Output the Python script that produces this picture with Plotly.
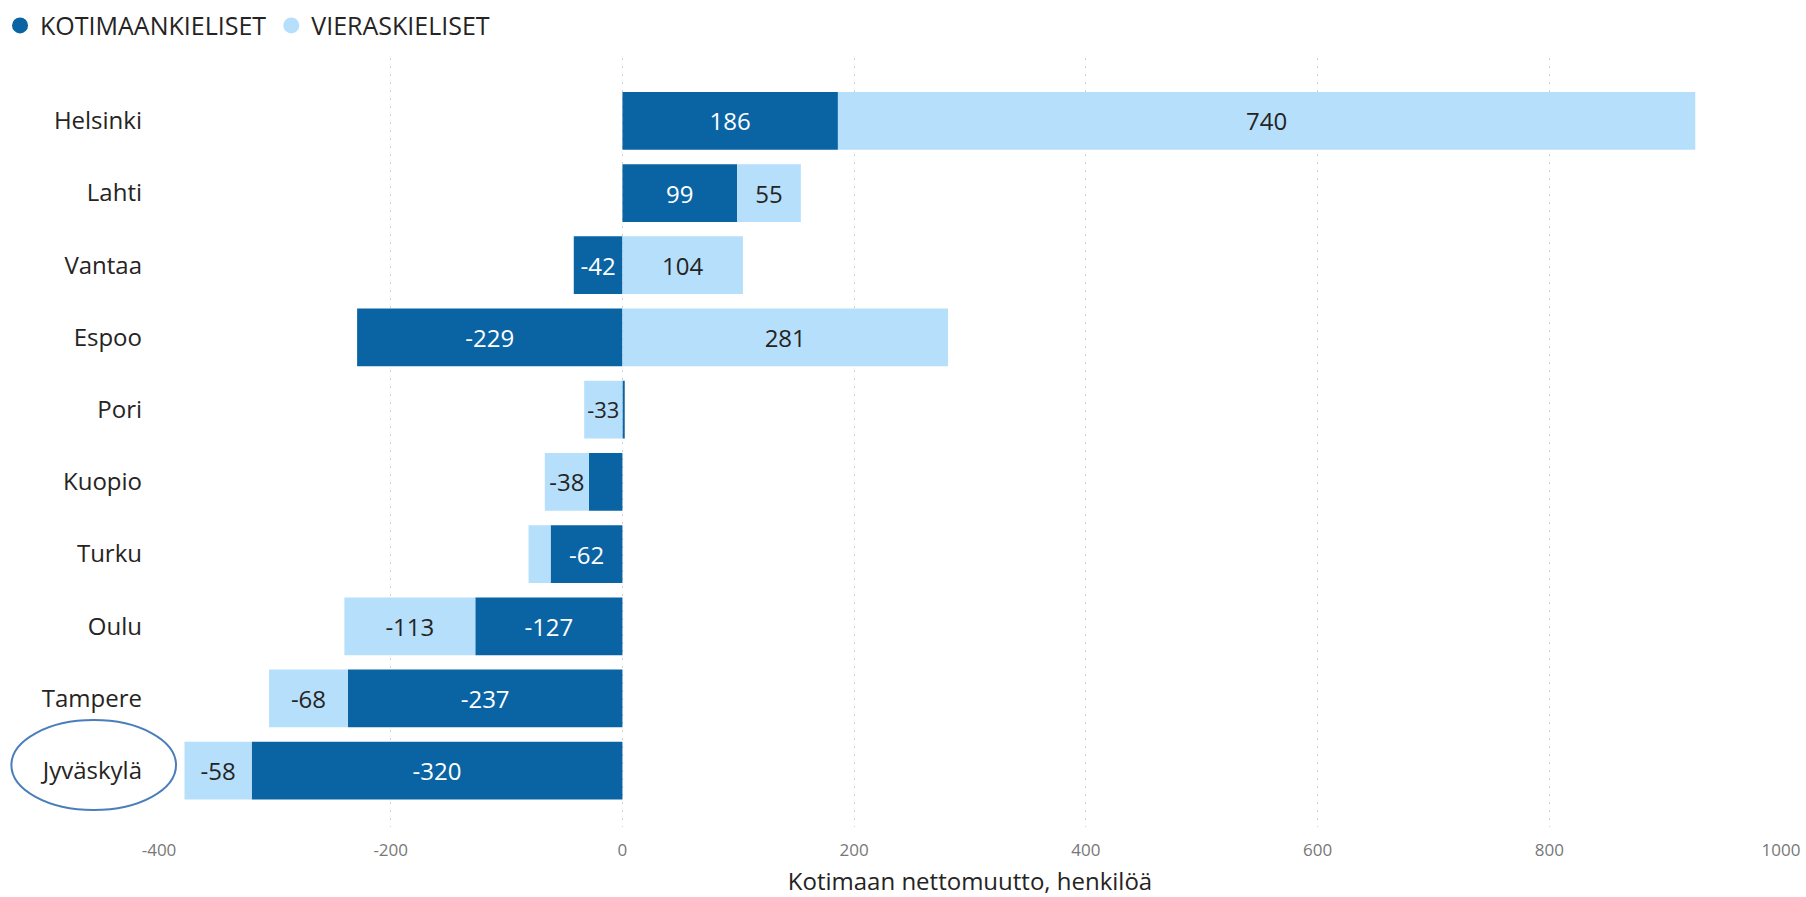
import plotly.graph_objects as go

DARK = "#0a64a4"
LIGHT = "#b6dffc"
TEXT = "#252423"

cities = ["Helsinki", "Lahti", "Vantaa", "Espoo", "Pori", "Kuopio", "Turku", "Oulu", "Tampere", "Jyväskylä"]
kotimaankieliset = [186, 99, -42, -229, 2, -29, -62, -127, -237, -320]
vieraskieliset = [740, 55, 104, 281, -33, -38, -19, -113, -68, -58]

x_ticks = [-400, -200, 0, 200, 400, 600, 800, 1000]


def _labels(vals, min_abs=30):
    # Power BI drops labels that don't fit in the bar
    return [str(v) if abs(v) >= min_abs else "" for v in vals]


fig = go.Figure()
fig.add_trace(go.Bar(
    y=cities, x=kotimaankieliset, orientation="h", name="KOTIMAANKIELISET",
    marker=dict(color=DARK, line=dict(width=0)),
    text=_labels(kotimaankieliset), textposition="inside", insidetextanchor="middle",
    textangle=0, textfont=dict(color="white", size=24), showlegend=False,
))
fig.add_trace(go.Bar(
    y=cities, x=vieraskieliset, orientation="h", name="VIERASKIELISET",
    marker=dict(color=LIGHT, line=dict(width=0)),
    text=_labels(vieraskieliset), textposition="inside", insidetextanchor="middle",
    textangle=0, textfont=dict(color=TEXT, size=24), showlegend=False,
))

# circle legend markers like Power BI
for name, color in [("KOTIMAANKIELISET", DARK), ("VIERASKIELISET", LIGHT)]:
    fig.add_trace(go.Scatter(x=[None], y=[None], mode="markers", name=name,
                             marker=dict(color=color, size=20, symbol="circle")))

# highlight ring around Jyväskylä
fig.add_shape(type="circle", xref="paper", yref="paper",
              x0=-0.091, x1=0.0105, y0=0.022, y1=0.139,
              line=dict(color="#4a7ebb", width=2))

fig.update_layout(
    barmode="relative",
    bargap=0.2,
    width=1806, height=897,
    margin=dict(l=159, r=25, t=58, b=70, autoexpand=False),
    plot_bgcolor="#fff",
    paper_bgcolor="#fff",
    font=dict(family="Open Sans, sans-serif", color=TEXT, size=22),
    legend=dict(orientation="h", x=-0.098, y=1.072, xanchor="left", yanchor="top",
                font=dict(size=25, color=TEXT), itemwidth=30, tracegroupgap=0),
)
fig.update_xaxes(
    range=[-400, 1000], tickvals=x_ticks, ticktext=[str(t) for t in x_ticks],
    tickfont=dict(size=17, color="#777777"), ticklabelstandoff=11,
    showgrid=True, gridcolor="#cfcfcf", griddash="2px,6px", gridwidth=1,
    zeroline=False, showline=False,
    title=dict(text="Kotimaan nettomuutto, henkilöä", font=dict(size=24, color=TEXT), standoff=16),
)
fig.update_yaxes(
    categoryorder="array", categoryarray=cities,
    range=[9.78, -0.87],
    showgrid=False, zeroline=False, showline=False,
    tickfont=dict(size=24, color=TEXT), ticklabelstandoff=16,
)

fig.write_html("out.html", config={"displayModeBar": False},
               post_script="document.body.style.margin='0';")
